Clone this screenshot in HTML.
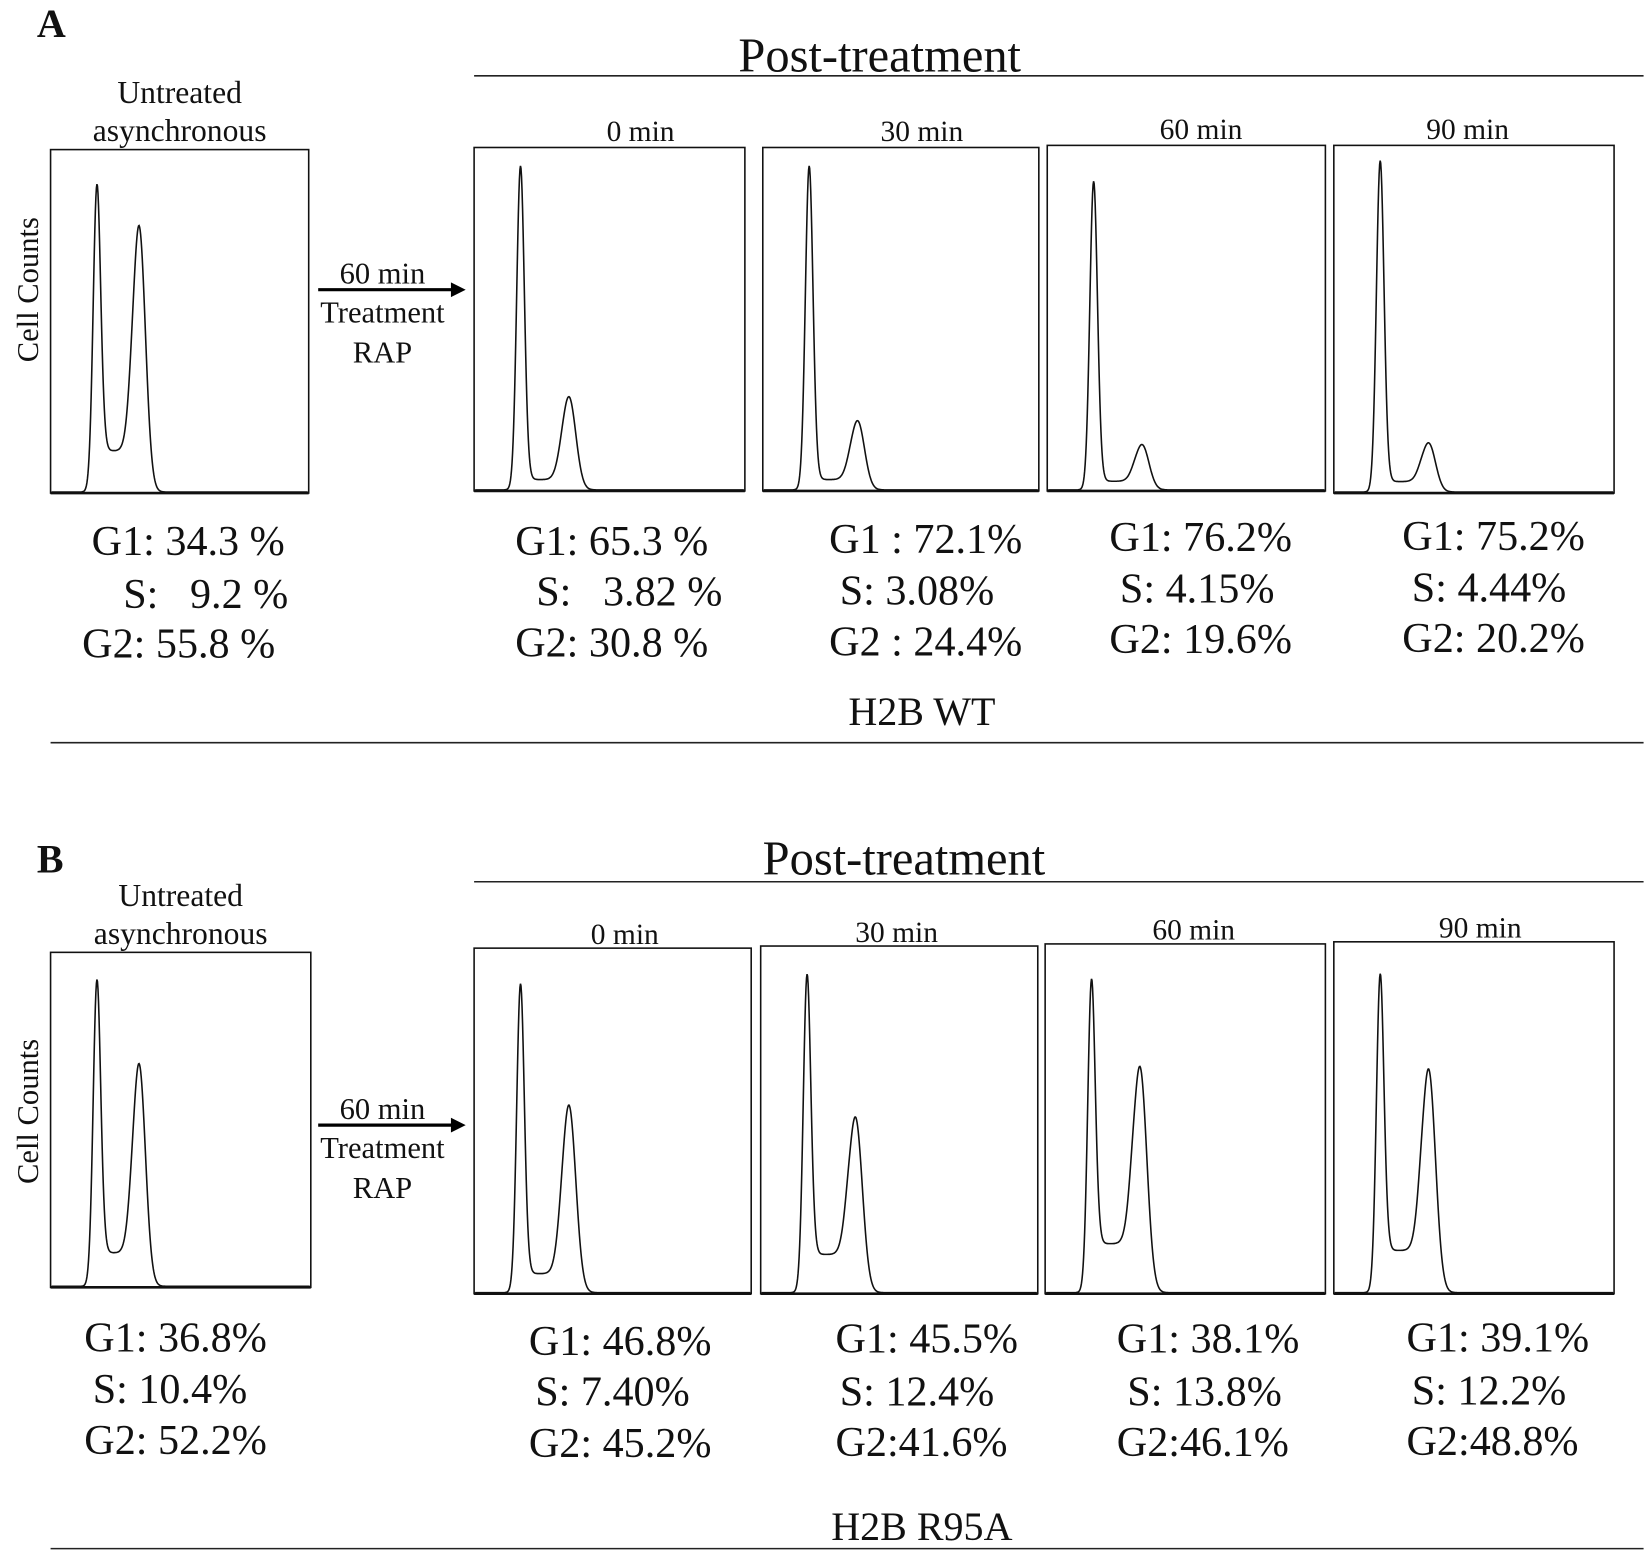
<!DOCTYPE html>
<html><head><meta charset="utf-8"><style>
html,body{margin:0;padding:0;background:#fff;}
svg{display:block;font-family:"Liberation Serif",serif;}
svg text{white-space:pre;}
</style></head><body>
<svg id="fig" width="1652" height="1556" viewBox="0 0 1568 1477" preserveAspectRatio="none" xmlns="http://www.w3.org/2000/svg"></svg>
<script>
// Histogram data (fractions of box height)
const panelNames = ["A","B"];
const conditions = ["untreated","0 min","30 min","60 min","90 min"];
const g1HeightsA = [0.88,0.93,0.93,0.88,0.94];
const g2HeightsA = [0.77,0.27,0.20,0.13,0.14];
const troughA = [0.12,0.03,0.03,0.025,0.03];
const g1HeightsB = [0.90,0.88,0.90,0.88,0.89];
const g2HeightsB = [0.66,0.54,0.50,0.64,0.63];
const troughB = [0.10,0.055,0.11,0.14,0.12];
const statsA = [["G1: 34.3 %"," S:   9.2 %","G2: 55.8 %"],["G1: 65.3 %","  S:   3.82 %","G2: 30.8 %"],["G1 : 72.1%","S: 3.08%","G2 : 24.4%"],["G1: 76.2%","S: 4.15%","G2: 19.6%"],["G1: 75.2%","S: 4.44%","G2: 20.2%"]];
const statsB = [["G1: 36.8%","S: 10.4%","G2: 52.2%"],["G1: 46.8%","S: 7.40%","G2: 45.2%"],["G1: 45.5%","S: 12.4%","G2:41.6%"],["G1: 38.1%","S: 13.8%","G2:46.1%"],["G1: 39.1%","S: 12.2%","G2:48.8%"]];

const NS="http://www.w3.org/2000/svg";
const svg=document.getElementById('fig');
function mk(tag,attrs,parent){const e=document.createElementNS(NS,tag);for(const k in attrs)e.setAttribute(k,attrs[k]);(parent||svg).appendChild(e);return e;}
function txt(s,x,y,size,anchor,parent,extra){const t=mk('text',Object.assign({x:x,y:y,'font-size':size,'text-anchor':anchor||'start',fill:'#111'},extra||{}),parent);t.textContent=s;return t;}

const layouts=[
 {letterY:35,postY:68,postLine:72,postX:835,
  boxes:[[48,142,245,326],[450,140,257,326],[724,140,262,326],[994,138,264,328],[1266,138,266,330]],
  titleX:[0,608,875,1140,1393],titleY:[0,134,134,132,132],
  sx:[[87,107,78],[489,489,489],[787,797,787],[1053,1063,1053],[1331,1340,1331]],
  sy:[[527,577,624],[527,575,623],[525,574,622],[523,572,620],[522,571,619]],
  g1:g1HeightsA,g2:g2HeightsA,tr:troughA,st:statsA,label:"H2B WT",labelX:875,labelY:688,endLine:705,arrowY:275,cc:275},
 {letterY:828,postY:830,postLine:837,postX:858,
  boxes:[[48,904,247,318],[450,900,263,328],[722,898,263,330],[992,896,266,332],[1266,894,266,334]],
  titleX:[0,593,851,1133,1405],titleY:[0,896,894,892,890],
  sx:[[80,88,80],[502,508,502],[793,797,793],[1060,1070,1060],[1335,1340,1335]],
  sy:[[1283,1332,1380],[1286,1334,1383],[1284,1334,1382],[1284,1334,1382],[1283,1333,1381]],
  g1:g1HeightsB,g2:g2HeightsB,tr:troughB,st:statsB,label:"H2B R95A",labelX:875,labelY:1462,endLine:1470,arrowY:1068,cc:1055}
];

layouts.forEach((L,pi)=>{
  const g=mk('g',{});
  
  
  const lt=txt(panelNames[pi],35,L.letterY,38,'start',g,{'font-weight':'bold'});
  
  
  const pt=txt("Post-treatment",L.postX,L.postY,46,'middle',g);
  
  
  mk('line',{x1:450,y1:L.postLine,x2:1560,y2:L.postLine,stroke:'#222','stroke-width':1.5},g);
  const b0=L.boxes[0];
  const u1=txt("Untreated",b0[0]+b0[2]/2,b0[1]-44,30,'middle',g);
  
  
  txt("asynchronous",b0[0]+b0[2]/2,b0[1]-8,30,'middle',g);
  const cc=txt("Cell Counts",0,0,29,'middle',g,{transform:`translate(36,${L.cc}) rotate(-90)`});
  
  
  const ay=L.arrowY;
  mk('line',{x1:302,y1:ay,x2:430,y2:ay,stroke:'#000','stroke-width':3},g);
  mk('polygon',{points:`428,${ay-7} 442,${ay} 428,${ay+7}`,fill:'#000'},g);
  txt("60 min",363,ay-6,29,'middle',g);
  txt("Treatment",363,ay+31,29,'middle',g);
  txt("RAP",363,ay+69,29,'middle',g);
  L.boxes.forEach((b,i)=>{
    const [bx,by,bw,bh]=b;
    const hg=mk('g',{},g);
    
    
    mk('rect',{x:bx,y:by,width:bw,height:bh,fill:'none',stroke:'#111','stroke-width':1.5},hg);
    mk('line',{x1:bx,y1:by+bh,x2:bx+bw,y2:by+bh,stroke:'#111','stroke-width':2.5},hg);
    if(i>0) txt(conditions[i],L.titleX[i],L.titleY[i],28,'middle',hg);
    const p1=bx+44, p2=bx+(i==0?84:90), s1=3.6, s2=(i==0?6:6.5);
    const h1=L.g1[i], h2=L.g2[i], t=L.tr[i];
    let d='';
    for(let x=bx+1;x<=bx+bw-1;x+=0.5){
      const gsn=(c,s)=>Math.exp(-0.5*((x-c)/s)**2);
      const plat=t/((1+Math.exp(-(x-p1-5)/1.5))*(1+Math.exp((x-p2+6)/2)));
      let v=h1*gsn(p1,s1)+h2*gsn(p2,s2)+plat+0.02*gsn(p1+4,4);
      const y=by+bh-1-v*bh;
      d+=(d?'L':'M')+x.toFixed(1)+','+y.toFixed(1);
    }
    const path=mk('path',{d:d,fill:'none',stroke:'#111','stroke-width':1.5},hg);
    
    
    L.st[i].forEach((s,k)=>{
      const st=txt(s,L.sx[i][k],L.sy[i][k],40,'start',hg);
      
      
    });
  });
  const lb=txt(L.label,L.labelX,L.labelY,38,'middle',g);
  
  
  mk('line',{x1:48,y1:L.endLine,x2:1560,y2:L.endLine,stroke:'#222','stroke-width':1.5},g);
});
</script>
</body></html>
